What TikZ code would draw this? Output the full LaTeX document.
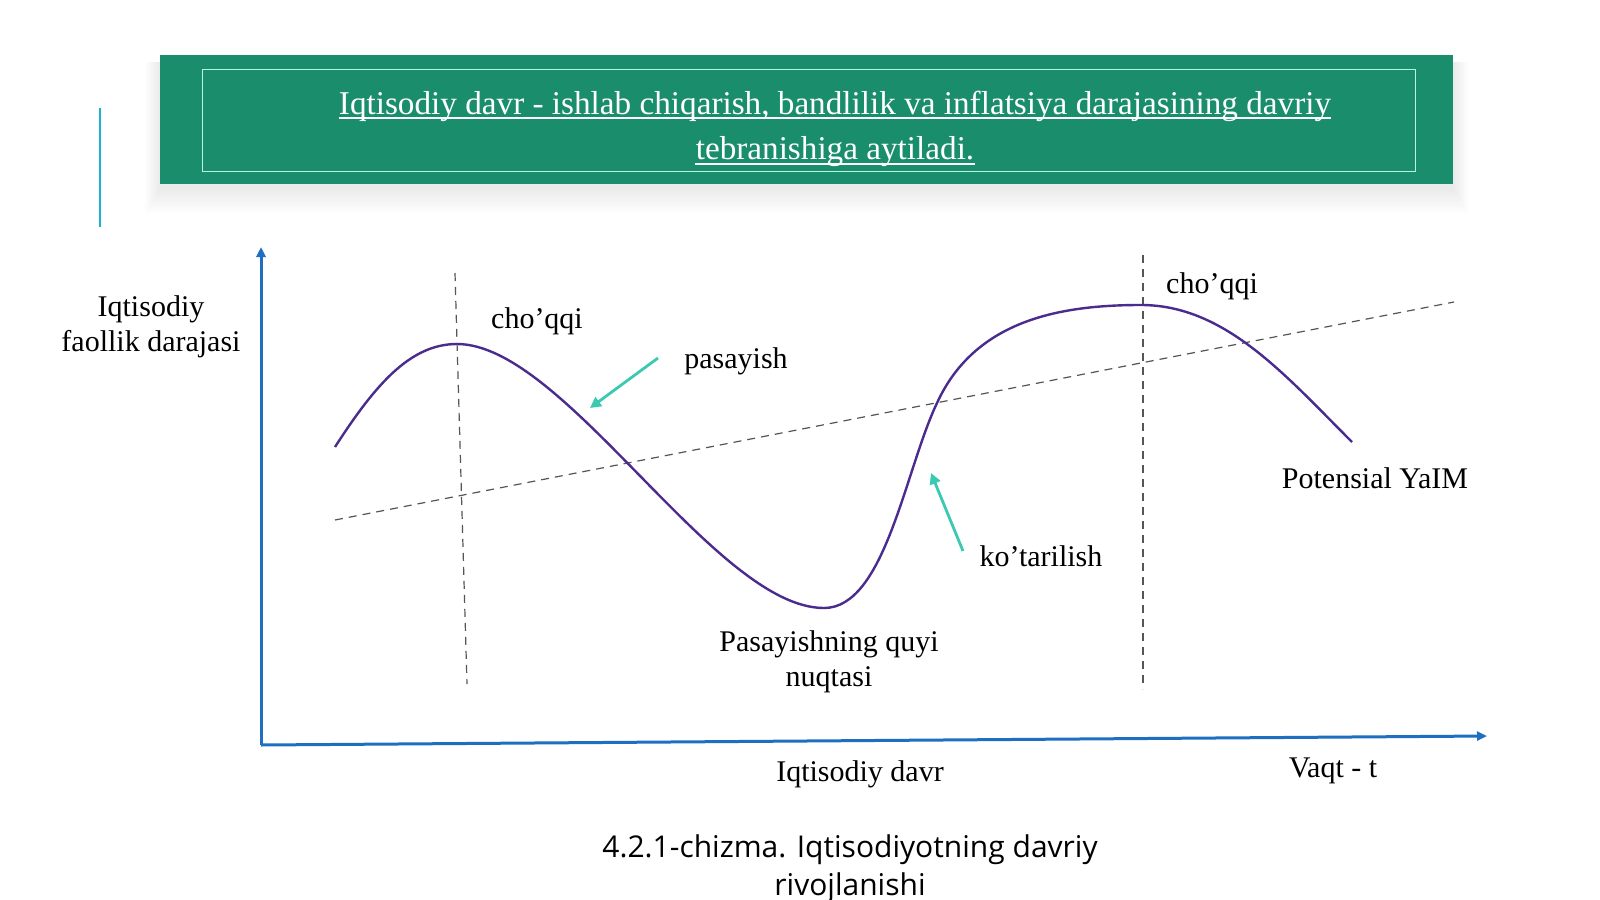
\documentclass[tikz,border=0pt]{standalone}
\usepackage{fontspec}
\setmainfont{Liberation Serif}
\newfontfamily\capfont{Open Sans}
\usetikzlibrary{arrows.meta}
\definecolor{bannergreen}{HTML}{1A8E6C}
\definecolor{innerline}{HTML}{B8F5E6}
\definecolor{axisblue}{HTML}{1E6FC1}
\definecolor{curvepurple}{HTML}{4A2B8E}
\definecolor{arrowteal}{HTML}{3CC9B2}
\definecolor{leftcyan}{HTML}{1BB3D1}
\definecolor{dashgray}{HTML}{555555}
\begin{document}
\begin{tikzpicture}[x=0.5pt,y=-0.5pt,
  lbl/.style={font=\fontsize{15}{17.5}\selectfont, inner sep=0pt, align=center, text=black},
  titleline/.style={font=\fontsize{16.6}{23}\selectfont, text=white, inner sep=0pt, anchor=base},
  ul/.style={draw=white, line width=0.6pt},
  axisline/.style={draw=axisblue, line width=1.5pt, -{Triangle[length=5pt,width=4.5pt]}},
  trend/.style={draw=dashgray, line width=0.6pt, dash pattern=on 4pt off 3pt},
  tealarrow/.style={draw=arrowteal, line width=1.4pt, -{Triangle[length=5.5pt,width=5.5pt]}},
  cyc/.style={draw=curvepurple, line width=1.2pt}]
\useasboundingbox (0,0) rectangle (1600,899);
\fill[white] (0,0) rectangle (1600,899);
% soft banner shadow
\foreach \i in {1,...,10}{
  \fill[black!60!orange, opacity=0.008] (160-1.5*\i,62) rectangle (1453+1.5*\i,188+2.5*\i);
}
\node[fill=bannergreen, minimum width=1293*0.5pt, minimum height=129*0.5pt, inner sep=0pt, anchor=north west] (banner) at (160,55) {};
\node[draw=innerline, line width=0.6pt, minimum width=1213*0.5pt, minimum height=102*0.5pt, inner sep=0pt, anchor=north west] (inner) at (202,69) {};
\node[titleline] (title1) at (835,114) {Iqtisodiy davr - ishlab chiqarish, bandlilik va inflatsiya darajasining davriy};
\node[titleline] (title2) at (835,160) {tebranishiga aytiladi.};
\draw[ul] ([yshift=-2pt]title1.base west) -- ([yshift=-2pt]title1.base east);
\draw[ul] ([yshift=-2pt]title2.base west) -- ([yshift=-2pt]title2.base east);
% left cyan bar
\coordinate (cbtop) at (100,108);
\coordinate (cbbot) at (100,227);
\draw[leftcyan, line width=1.2pt] (cbtop) -- (cbbot);
% axes
\coordinate (origin) at (261,745);
\coordinate (ytip) at (261,247);
\coordinate (xtip) at (1487,736);
\draw[axisline] (origin) -- (ytip);
\draw[axisline] (origin) -- (xtip);
% trend and vertical dashed
\coordinate (tr1) at (335,520);
\coordinate (tr2) at (1454,302);
\draw[trend] (tr1) -- (tr2);
\coordinate (v1a) at (455,273);
\coordinate (v1b) at (467,684);
\draw[trend] (v1a) -- (v1b);
\coordinate (v2a) at (1143,255);
\coordinate (v2b) at (1143,689);
\draw[trend] (v2a) -- (v2b);
% cycle curve
\coordinate (c0) at (335,447);
\coordinate (pk1) at (457,344);
\coordinate (tr) at (824,608);
\coordinate (c3) at (937,403);
\coordinate (pk2) at (1141,305);
\coordinate (c5) at (1352,442);
\draw[cyc] (c0) .. controls (375,385) and (410,344) .. (pk1)
  .. controls (565,344) and (715,608) .. (tr)
  .. controls (885,608) and (905,470) .. (c3)
  .. controls (975,320) and (1060,305) .. (pk2)
  .. controls (1225,305) and (1285,375) .. (c5);
% teal arrows
\coordinate (a1s) at (658,358);
\coordinate (a1e) at (590,408);
\draw[tealarrow] (a1s) -- (a1e);
\coordinate (a2s) at (963,551);
\coordinate (a2e) at (931,473);
\draw[tealarrow] (a2s) -- (a2e);
% labels
\node[lbl] (ylab) at (151,327) {Iqtisodiy\\faollik darajasi};
\node[lbl] (peak1) at (537,321) {cho’qqi};
\node[lbl] (pas) at (736,361) {pasayish};
\node[lbl] (peak2) at (1212,286) {cho’qqi};
\node[lbl] (pot) at (1375,478) {Potensial YaIM};
\node[lbl] (kot) at (1041,556) {ko’tarilish};
\node[lbl] (trough) at (829,662) {Pasayishning quyi\\nuqtasi};
\node[lbl] (xlab) at (860,774) {Iqtisodiy davr};
\node[lbl] (vaqt) at (1333,771) {Vaqt - t};
\node[font=\capfont\fontsize{15}{19}\selectfont, align=center, inner sep=0pt] (cap) at (850,869)
  {4.2.1-chizma. Iqtisodiyotning davriy\\rivojlanishi};
\end{tikzpicture}
\end{document}
